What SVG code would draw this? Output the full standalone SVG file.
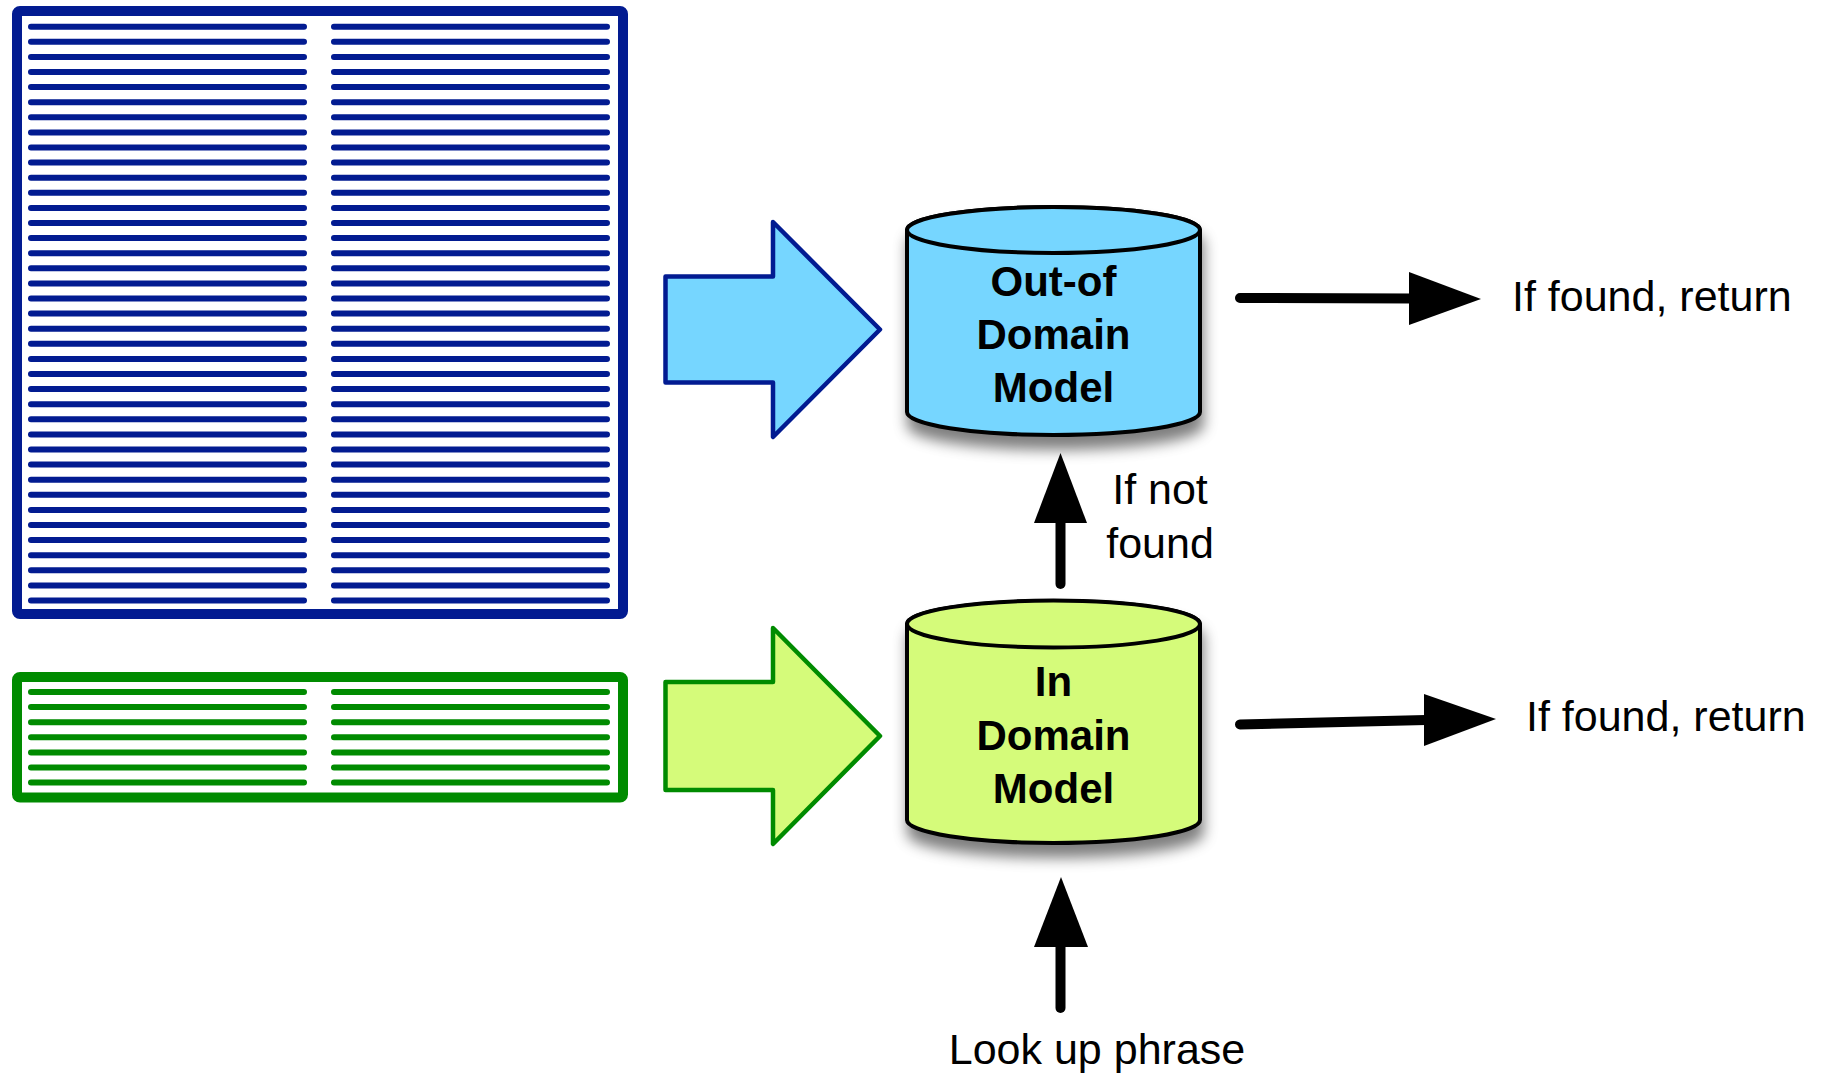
<svg xmlns="http://www.w3.org/2000/svg" width="1821" height="1075" viewBox="0 0 1821 1075">
<defs>
<style>
.bl{stroke:#021b91;stroke-width:6;stroke-linecap:round;fill:none}
.gl{stroke:#008b00;stroke-width:6;stroke-linecap:round;fill:none}
.cyl{stroke:#000;stroke-width:4;stroke-linejoin:round}
.lbl{font-family:"Liberation Sans",Arial,sans-serif;font-size:43px;fill:#000}
.nlbl{font-family:"Liberation Sans",Arial,sans-serif;font-size:42px;font-weight:bold;fill:#000;text-anchor:middle}
.conn{stroke:#000;stroke-width:10;stroke-linecap:round;fill:none}
.head{fill:#000}
</style>
<filter id="sh" x="-20%" y="-20%" width="140%" height="150%">
<feGaussianBlur in="SourceAlpha" stdDeviation="7"/>
<feOffset dx="2" dy="13" result="b"/>
<feFlood flood-color="#000" flood-opacity="0.5"/>
<feComposite in2="b" operator="in"/>
<feMerge><feMergeNode/><feMergeNode in="SourceGraphic"/></feMerge>
</filter>
</defs>
<rect width="1821" height="1075" fill="#fff"/>

<g id="outdomain-corpus">
<rect x="17" y="11" width="606" height="603" rx="3" fill="#fff" stroke="#021b91" stroke-width="10"/>
<g class="bl">
<path d="M31 26.7H304M334 26.7H607M31 41.8H304M334 41.8H607M31 56.9H304M334 56.9H607M31 72H304M334 72H607M31 87.1H304M334 87.1H607M31 102.2H304M334 102.2H607M31 117.3H304M334 117.3H607M31 132.4H304M334 132.4H607M31 147.5H304M334 147.5H607M31 162.6H304M334 162.6H607M31 177.7H304M334 177.7H607M31 192.8H304M334 192.8H607M31 207.9H304M334 207.9H607M31 223H304M334 223H607M31 238.1H304M334 238.1H607M31 253.2H304M334 253.2H607M31 268.3H304M334 268.3H607M31 283.4H304M334 283.4H607M31 298.5H304M334 298.5H607M31 313.6H304M334 313.6H607M31 328.7H304M334 328.7H607M31 343.8H304M334 343.8H607M31 358.9H304M334 358.9H607M31 374H304M334 374H607M31 389.1H304M334 389.1H607M31 404.2H304M334 404.2H607M31 419.3H304M334 419.3H607M31 434.4H304M334 434.4H607M31 449.5H304M334 449.5H607M31 464.6H304M334 464.6H607M31 479.7H304M334 479.7H607M31 494.8H304M334 494.8H607M31 509.9H304M334 509.9H607M31 525H304M334 525H607M31 540.1H304M334 540.1H607M31 555.2H304M334 555.2H607M31 570.3H304M334 570.3H607M31 585.4H304M334 585.4H607M31 600.5H304M334 600.5H607"/>
</g>
</g>

<g id="indomain-corpus">
<rect x="17" y="677" width="606" height="120.5" rx="3" fill="#fff" stroke="#008b00" stroke-width="10"/>
<g class="gl">
<path d="M31 692H304M334 692H607M31 707.1H304M334 707.1H607M31 722.2H304M334 722.2H607M31 737.3H304M334 737.3H607M31 752.4H304M334 752.4H607M31 767.5H304M334 767.5H607M31 782.6H304M334 782.6H607"/>
</g>
</g>

<g id="blue-arrow">
<polygon points="665.5,276.5 773,276.5 773,222 880,329.5 773,437 773,382.5 665.5,382.5" fill="#76d6ff" stroke="#021b91" stroke-width="4.5" stroke-linejoin="round"/>
</g>
<g id="green-arrow">
<polygon points="665.5,682 773,682 773,628 880,736 773,844 773,790 665.5,790" fill="#d5fb7a" stroke="#008b00" stroke-width="4.5" stroke-linejoin="round"/>
</g>

<g id="outdomain-model">
<g filter="url(#sh)">
<path class="cyl" fill="#76d6ff" d="M907 230V412A146.5 23 0 0 0 1200 412V230A146.5 23 0 0 0 907 230Z"/>
</g>
<ellipse class="cyl" cx="1053.5" cy="230" rx="146.5" ry="23" fill="#76d6ff"/>
<text class="nlbl" x="1053.5" y="296">Out-of</text>
<text class="nlbl" x="1053.5" y="349">Domain</text>
<text class="nlbl" x="1053.5" y="402">Model</text>
</g>

<g id="indomain-model">
<g filter="url(#sh)">
<path class="cyl" fill="#d5fb7a" d="M907 624V820A146.5 23 0 0 0 1200 820V624A146.5 23 0 0 0 907 624Z"/>
</g>
<ellipse class="cyl" cx="1053.5" cy="624" rx="146.5" ry="23.5" fill="#d5fb7a"/>
<text class="nlbl" x="1053.5" y="696">In</text>
<text class="nlbl" x="1053.5" y="750">Domain</text>
<text class="nlbl" x="1053.5" y="803">Model</text>
</g>

<g id="connectors">
<line class="conn" x1="1240" y1="298" x2="1412" y2="298.5"/>
<polygon class="head" points="1409,272 1481,299 1409,325"/>
<line class="conn" x1="1240" y1="724.5" x2="1426" y2="720"/>
<polygon class="head" points="1424,694 1496,719 1424,746"/>
<line class="conn" x1="1060.5" y1="584" x2="1060.5" y2="520"/>
<polygon class="head" points="1034,523 1060.5,453 1087,523"/>
<line class="conn" x1="1060.5" y1="1008" x2="1060.5" y2="944"/>
<polygon class="head" points="1034,947 1061,877 1088,947"/>
</g>

<g id="labels">
<text class="lbl" x="1512" y="311">If found, return</text>
<text class="lbl" x="1526" y="731">If found, return</text>
<text class="lbl" x="1160" y="504" text-anchor="middle">If not</text>
<text class="lbl" x="1160" y="558" text-anchor="middle">found</text>
<text class="lbl" x="1097" y="1064" text-anchor="middle">Look up phrase</text>
</g>
</svg>
